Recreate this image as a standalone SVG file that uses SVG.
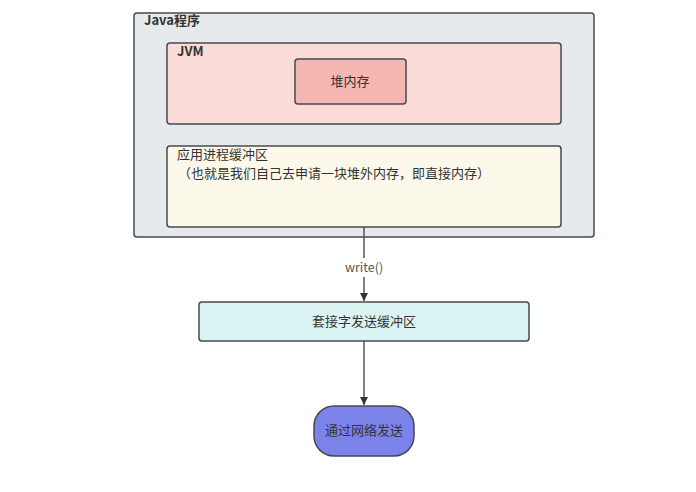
<svg xmlns="http://www.w3.org/2000/svg" width="696" height="492" viewBox="0 0 696 492">
<style>
.b{stroke:#454a51;stroke-width:1.5}
text{font-family:"Noto Sans CJK SC","Liberation Sans",sans-serif;font-size:13px;fill:#333}
.bold{font-weight:bold}
.c{text-anchor:middle}
.ln{stroke:#555;stroke-width:1.5;fill:none}
</style>
<defs>
<marker id="ah" markerWidth="10" markerHeight="10" refX="9" refY="5" orient="auto" markerUnits="userSpaceOnUse">
<path d="M1,1 L9,5 L1,9 Z" fill="#333"/>
</marker>
</defs>
<rect width="696" height="492" fill="#fff"/>
<g id="java"><rect class="b" x="134" y="13" width="460" height="224" rx="3" fill="#e7eaed"/><text class="bold" x="144" y="25">Java程序</text></g>
<g id="jvm"><rect class="b" x="167" y="43" width="394" height="81" rx="3" fill="#fadbd8"/><text class="bold" x="177" y="56">JVM</text></g>
<g id="heap"><rect class="b" x="295" y="59" width="111" height="45" rx="3" fill="#f5b7b1"/><text class="c" x="350" y="86">堆内存</text></g>
<g id="appbuf"><rect class="b" x="167" y="146" width="394" height="81" rx="3" fill="#fcf8ea"/><text x="177" y="159">应用进程缓冲区</text><text x="178" y="178">（也就是我们自己去申请一块堆外内存，即直接内存）</text></g>
<g id="sockbuf"><rect class="b" x="199" y="302" width="330" height="39" rx="3" fill="#daf4f4"/><text class="c" x="364" y="326">套接字发送缓冲区</text></g>
<g id="net"><rect class="b" x="314" y="406" width="100" height="50" rx="20" fill="#7b83eb"/><text class="c" x="364" y="435">通过网络发送</text></g>
<g id="connectors">
<line class="ln" x1="364" y1="227" x2="364" y2="258"/>
<line class="ln" x1="364" y1="277" x2="364" y2="301" marker-end="url(#ah)"/>
<text class="c" x="364" y="272" style="fill:#555;font-size:12.5px">write()</text>
<line class="ln" x1="364" y1="341" x2="364" y2="405" marker-end="url(#ah)"/>
</g>
</svg>
